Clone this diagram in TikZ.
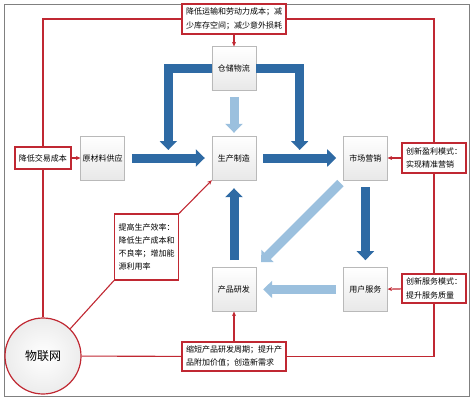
\documentclass[tikz,border=0pt]{standalone}
\usepackage{fontspec}
\setmainfont{Noto Sans CJK SC}
\usetikzlibrary{arrows.meta,calc}
\definecolor{redline}{RGB}{192,40,50}
\definecolor{darkblue}{RGB}{46,106,164}
\definecolor{lightblue}{RGB}{155,192,222}
\begin{document}
\begin{tikzpicture}[x=1pt, y=-1pt]
\tikzstyle{block} = [draw=gray!55,rectangle,top color=white,bottom color=gray!18,minimum width=44pt,minimum height=44pt,inner sep=0pt,font=\fontsize{8}{10}\selectfont]
\tikzstyle{note} = [draw=redline,line width=1.1pt,rectangle,fill=white,align=left,inner xsep=4pt,inner ysep=3pt,font=\fontsize{8}{13.5}\selectfont]
\tikzstyle{link} = [draw=redline,line width=1.1pt]
\tikzstyle{connector} = [link,-{Stealth[length=4.5pt,width=4pt]}]
\tikzstyle{flow} = [line width=9pt,draw=darkblue,-{Triangle[width=17pt,length=9pt]}]
\tikzstyle{soft} = [flow,draw=lightblue]
\useasboundingbox (0,0) rectangle (472,400);
\draw[gray,line width=1pt] (4,4) rectangle (469,396);
\matrix[ampersand replacement=\&, row sep=45pt, column sep=87pt] at (234,179) {
\& \node[block](store){仓储物流}; \& \\
\node[block](raw){原材料供应}; \& \node[block](make){生产制造}; \& \node[block](mkt){市场营销}; \\[42pt]
\& \node[block](dev){产品研发}; \& \node[block](user){用户服务}; \\
};

\node[circle,draw=redline,line width=1.2pt,minimum size=76pt,inner color=white,outer color=gray!15,font=\fontsize{12}{14}\selectfont](iot) at (43,356){物联网};
\node[note,minimum height=30pt](ntop) at (234,19){降低运输和劳动力成本；减\\少库存空间；减少意外损耗};
\node[note,minimum height=22pt](ncost) at (43,158){降低交易成本};
\node[note,minimum height=30pt](nprofit) at (434,158){创新盈利模式：\\实现精准营销};
\node[note,minimum height=66pt,font=\fontsize{8}{13}\selectfont](neff) at (146.5,247){提高生产效率：\\降低生产成本和\\不良率；增加能\\源利用率};
\node[note,minimum height=29pt](nserv) at (434,288.5){创新服务模式：\\提升服务质量};
\node[note,minimum height=29pt](ndev) at (234,356.5){缩短产品研发周期；提升产\\品附加价值；创造新需求};

\draw [link] (iot) -- (ncost);
\draw [link] (ncost) |- (ntop);
\draw [link] (ntop) -| (nprofit);
\draw [link] (nprofit) -- (nserv);
\draw [link] (nserv) |- (ndev);
\draw [link] (iot) -- (ndev);
\draw [link] (iot.north east) -- (neff.south west);
\draw [connector] (neff.north east) -- (make.south west);
\draw [connector] (ncost) -- (raw);
\draw [connector] (nprofit) -- (mkt);
\draw [connector] (nserv) -- (user);
\draw [connector] (ntop) -- (store);
\draw [connector] (ndev) -- (dev);

\coordinate (lt) at ($(raw.east)!.5!(make.west)$);
\coordinate (rt) at ($(make.east)!.5!(mkt.west)$);
\draw [flow] (store.west) -| ([yshift=8pt]lt);
\draw [flow] (store.east) -| ([yshift=8pt]rt);
\draw [flow,shorten <=7pt,shorten >=7pt] (raw) -- (make);
\draw [flow,shorten <=7pt,shorten >=7pt] (make) -- (mkt);
\draw [soft,shorten <=6pt,shorten >=3pt] (store) -- (make);
\draw [flow,shorten <=7pt,shorten >=8pt] (dev) -- (make);
\draw [flow,shorten <=7pt,shorten >=7pt] (mkt) -- (user);
\draw [soft,shorten <=4pt,shorten >=7pt] (mkt.south west) -- (dev.north east);
\draw [soft,shorten <=7pt,shorten >=7pt] (user) -- (dev);
\end{tikzpicture}
\end{document}
